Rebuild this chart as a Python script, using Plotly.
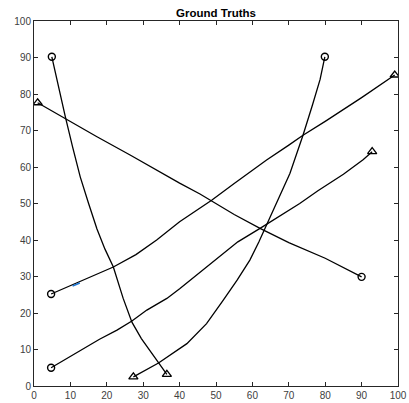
import plotly.graph_objects as go

# Curve data (x, y); first point = circle end, last point = triangle end
a_x = [4.9, 6.7, 8.6, 10.6, 12.7, 15.0, 17.3, 19.5, 21.8, 24.5, 26.9, 29.5, 32.0, 34.2, 36.5]
a_y = [90.2, 82.0, 73.8, 65.5, 57.3, 50.0, 43.0, 37.5, 32.6, 24.0, 17.5, 13.0, 9.5, 6.3, 3.2]

b_x = [79.9, 78.6, 76.5, 73.9, 70.3, 67.3, 64.3, 61.8, 59.3, 55.8, 52.0, 47.4, 42.0, 38.0, 34.2, 27.3]
b_y = [90.2, 84.0, 77.0, 68.7, 58.2, 51.5, 45.0, 39.5, 34.5, 29.0, 23.5, 17.1, 11.6, 8.8, 6.3, 2.5]

c_x = [4.7, 10, 15, 21.8, 28, 33.7, 40, 48.8, 55, 63.9, 70, 73.9, 80, 90, 99.1]
c_y = [25.2, 27.5, 29.7, 32.6, 36.0, 40, 45, 50.9, 55.5, 61.9, 66, 68.7, 72.5, 79, 85.2]

d_x = [4.7, 10, 13.6, 18, 22.8, 26.9, 31, 36.5, 40.1, 45, 49.7, 56, 62.1, 68, 73, 78, 85, 90.4, 92.9]
d_y = [5.0, 8.2, 10.3, 12.8, 15.3, 17.8, 20.8, 24, 26.7, 30.7, 34.5, 39.5, 43.2, 47, 50, 53.5, 58, 62, 64.2]

e_x = [90, 80, 70, 62.1, 55, 48.8, 45.6, 40, 34.6, 26.4, 17.3, 8.1, 1.0]
e_y = [29.9, 35, 39.3, 43.2, 47, 50.7, 52.6, 55.6, 58.7, 63.3, 68.3, 73.6, 77.6]

blue_x = [10.6, 12.6]
blue_y = [27.4, 28.2]

x_ticks = list(range(0, 101, 10))
y_ticks = list(range(0, 101, 10))

curves = [(a_x, a_y), (b_x, b_y), (c_x, c_y), (d_x, d_y), (e_x, e_y)]

fig = go.Figure()
for cx, cy in curves:
    fig.add_trace(go.Scatter(x=cx, y=cy, mode="lines",
                             line=dict(color="black", width=1.3),
                             showlegend=False, hoverinfo="skip"))
    fig.add_trace(go.Scatter(x=[cx[0]], y=[cy[0]], mode="markers",
                             marker=dict(symbol="circle-open", size=7,
                                         color="black", line=dict(width=1.4)),
                             showlegend=False, hoverinfo="skip"))
    fig.add_trace(go.Scatter(x=[cx[-1]], y=[cy[-1]], mode="markers",
                             marker=dict(symbol="triangle-up-open", size=8,
                                         color="black", line=dict(width=1.3)),
                             showlegend=False, hoverinfo="skip"))

fig.add_trace(go.Scatter(x=blue_x, y=blue_y, mode="lines",
                         line=dict(color="#1f77d4", width=1.5),
                         showlegend=False, hoverinfo="skip"))

axis_common = dict(showgrid=False, zeroline=False, showline=True,
                   linecolor="#262626", linewidth=1, mirror="ticks",
                   ticks="inside", ticklen=4, tickcolor="#262626",
                   automargin=False,
                   tickfont=dict(family="Liberation Sans, Arial", size=10,
                                 color="#404040"))

fig.update_xaxes(range=[0, 100], tickvals=x_ticks, **axis_common)
fig.update_yaxes(range=[0, 100], tickvals=y_ticks, **axis_common)

fig.update_layout(
    width=409, height=403,
    margin=dict(l=34, r=11, t=21, b=17, autoexpand=False),
    paper_bgcolor="white", plot_bgcolor="white",
    hovermode=False,
    title=dict(text="<b>Ground Truths</b>", x=216 / 409, xref="container",
               xanchor="center", y=1 - 12.5 / 403, yanchor="middle",
               font=dict(family="Liberation Sans, Arial", size=11.5, color="black"),
               automargin=False),
)

# remove the page's default 8px body margin so the figure fills the window exactly
fig.write_html("out.html",
               config={"displayModeBar": False, "staticPlot": True},
               post_script="document.body.style.margin='0px';document.body.style.overflow='hidden';")
